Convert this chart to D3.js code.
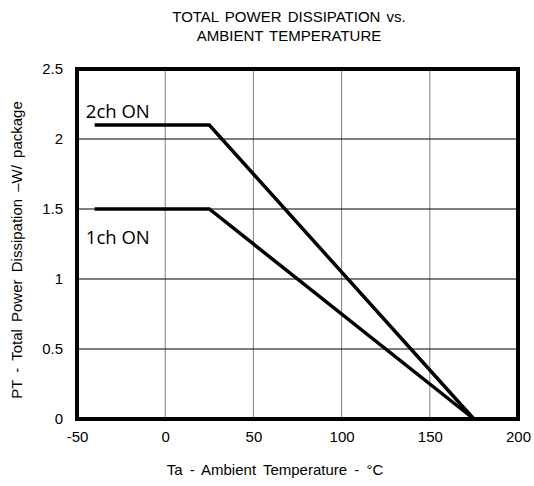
<!DOCTYPE html>
<html>
<head>
<meta charset="utf-8">
<script src="https://cdn.jsdelivr.net/npm/d3@7"></script>
<style>
  body { margin: 0; background: #fff; }
  text { font-family: "Liberation Sans", Arial, sans-serif; fill: #000; }
</style>
</head>
<body>
<div id="chart"></div>
<script>
// data
var temps = [-40, 25, 175];
var twoCh = [2.1, 2.1, 0];
var oneCh = [1.5, 1.5, 0];
var xTicks = [-50, 0, 50, 100, 150, 200];
var yTicks = [0, 0.5, 1, 1.5, 2, 2.5];

var margin = {top: 69, right: 16, bottom: 67, left: 77},
    width = 534 - margin.left - margin.right,
    height = 486 - margin.top - margin.bottom;

var x = d3.scaleLinear().domain([-50, 200]).range([0, width]);
var y = d3.scaleLinear().domain([0, 2.5]).range([height, 0]);

var svg = d3.select("#chart").append("svg")
    .attr("width", 534)
    .attr("height", 486);

var g = svg.append("g")
    .attr("transform", "translate(" + margin.left + "," + margin.top + ")");

// title
svg.append("text")
    .attr("x", 289).attr("y", 22)
    .attr("text-anchor", "middle")
    .style("font-size", "15px")
    .style("word-spacing", "2px")
    .text("TOTAL  POWER DISSIPATION vs.");
svg.append("text")
    .attr("x", 289).attr("y", 41)
    .attr("text-anchor", "middle")
    .style("font-size", "15px")
    .style("word-spacing", "2px")
    .text("AMBIENT  TEMPERATURE");

// grid
g.selectAll(".vgrid")
    .data(xTicks.slice(1, -1))
    .enter().append("line")
    .attr("x1", function(d) { return x(d); })
    .attr("x2", function(d) { return x(d); })
    .attr("y1", 0).attr("y2", height)
    .attr("stroke", "#7f7f7f")
    .attr("stroke-width", 1);

g.selectAll(".hgrid")
    .data(yTicks.slice(1, -1))
    .enter().append("line")
    .attr("x1", 0).attr("x2", width)
    .attr("y1", function(d) { return y(d); })
    .attr("y2", function(d) { return y(d); })
    .attr("stroke", "#000")
    .attr("stroke-width", 1);

// axes
var xAxis = g.append("g")
    .attr("transform", "translate(0," + height + ")")
    .call(d3.axisBottom(x).tickValues(xTicks).tickSize(0).tickPadding(12)
        .tickFormat(function(d) { return String(d); }));
var yAxis = g.append("g")
    .call(d3.axisLeft(y).tickValues(yTicks).tickSize(0).tickPadding(14)
        .tickFormat(function(d) { return String(d); }));
xAxis.select(".domain").remove();
yAxis.select(".domain").remove();
svg.selectAll(".tick text")
    .style("font-size", "15px")
    .style("font-family", "'Liberation Sans', Arial, sans-serif");

// lines
var line = d3.line()
    .x(function(d) { return x(d[0]); })
    .y(function(d) { return y(d[1]); });

[twoCh, oneCh].forEach(function(s) {
    g.append("path")
        .datum(d3.zip(temps, s))
        .attr("d", line)
        .attr("fill", "none")
        .attr("stroke", "#000")
        .attr("stroke-width", 3.5);
});

// border
g.append("rect")
    .attr("width", width).attr("height", height)
    .attr("fill", "none")
    .attr("stroke", "#000")
    .attr("stroke-width", 4);

// series labels
g.append("text")
    .attr("x", x(-45)).attr("y", y(2.1) - 7)
    .style("font-family", "'Open Sans', sans-serif")
    .style("font-size", "18.5px")
    .text("2ch ON");
g.append("text")
    .attr("x", x(-45)).attr("y", y(1.5) + 35)
    .style("font-family", "'Open Sans', sans-serif")
    .style("font-size", "18.5px")
    .text("1ch ON");

// axis titles
svg.append("text")
    .attr("x", 275).attr("y", 475)
    .attr("text-anchor", "middle")
    .style("font-size", "15px")
    .style("word-spacing", "3px")
    .text("Ta - Ambient  Temperature  - °C");
svg.append("text")
    .attr("transform", "translate(22,250) rotate(-90)")
    .attr("text-anchor", "middle")
    .style("font-size", "15px")
    .style("word-spacing", "3px")
    .text("PT - Total  Power  Dissipation  –W/ package");
</script>
</body>
</html>
